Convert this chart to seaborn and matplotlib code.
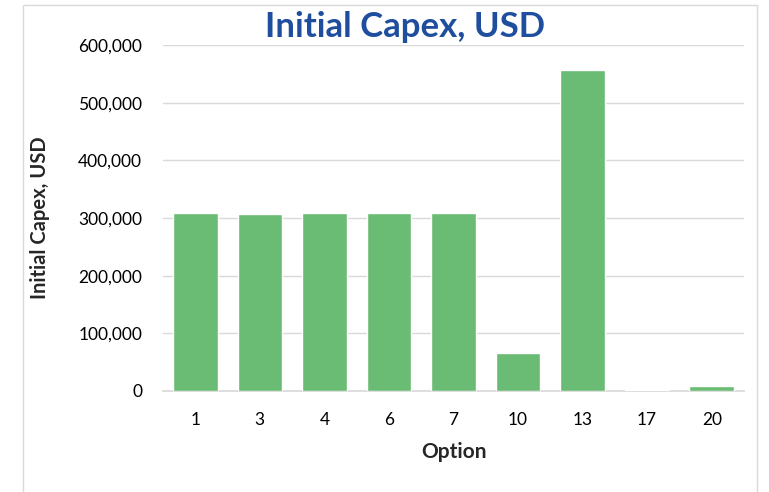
import matplotlib
matplotlib.use("Agg")
import matplotlib.pyplot as plt
import seaborn as sns
import pandas as pd
from matplotlib.patches import Rectangle
from matplotlib.ticker import FuncFormatter

options = ["1", "3", "4", "6", "7", "10", "13", "17", "20"]
capex = [308000, 307000, 308000, 308000, 308000, 66000, 557000, 1000, 9000]

sns.set_theme(style="white")
plt.rcParams['font.family'] = ['Lato', 'DejaVu Sans']

df = pd.DataFrame({"Option": options, "Capex": capex})

fig = plt.figure(figsize=(7.69, 4.92), dpi=100)
ax = fig.add_axes([0.212, 0.2053, 0.7555, 0.7032])

sns.barplot(data=df, x="Option", y="Capex", order=options, color="#6ABB73",
            saturation=1, width=0.69, ax=ax, zorder=3)

ax.set_ylim(0, 600000)
ax.set_yticks(range(0, 600001, 100000))
ax.yaxis.set_major_formatter(FuncFormatter(lambda v, p: f"{int(v):,}"))
ax.grid(axis="y", color="#D9D9D9", linewidth=1, zorder=0)
ax.set_axisbelow(True)
for s in ["top", "right", "left"]:
    ax.spines[s].set_visible(False)
ax.spines["bottom"].set_color("#D9D9D9")
ax.tick_params(axis="both", length=0, labelsize=12.5, colors="black")
ax.tick_params(axis="y", pad=15)
ax.tick_params(axis="x", pad=15)
ax.set_xlabel("Option", fontsize=15, fontweight="bold", labelpad=10)
ax.set_ylabel("Initial Capex, USD", fontsize=14.5, fontweight="bold")
ax.yaxis.set_label_coords(-0.195, 0.5)

fig.text(405/769, 1 - 27/492, "Initial Capex, USD", ha="center", va="center",
         fontsize=25, fontweight="bold", color="#1F4E9E")

fig.patches.append(Rectangle((23/769, 1 - 5/492 - 1.2), (757-23)/769, 1.2,
                             transform=fig.transFigure, fill=False,
                             edgecolor="#D9D9D9", linewidth=1))

fig.savefig("out.png", dpi=100)
